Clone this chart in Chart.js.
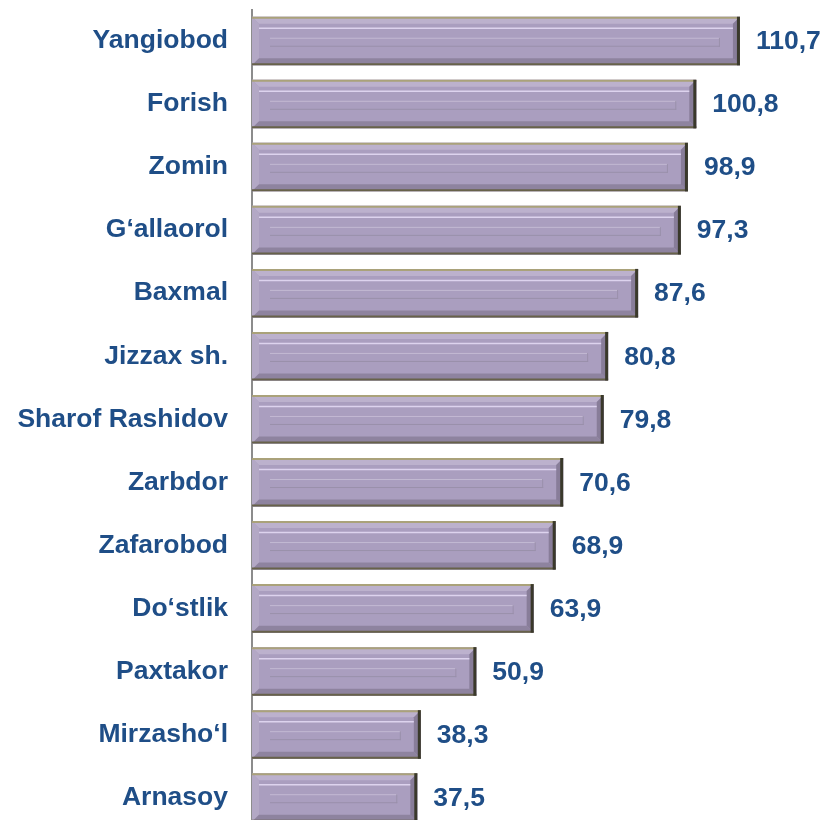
<!DOCTYPE html>
<html>
<head>
<meta charset="utf-8">
<script src="https://cdn.jsdelivr.net/npm/chart.js@4.4.1/dist/chart.umd.min.js"></script>
<style>
  html, body { margin: 0; padding: 0; background: #fff; overflow: hidden; }
  #wrap { position: absolute; left: 0; top: 0; width: 825px; height: 829px; }
</style>
</head>
<body>
<div id="wrap"><canvas id="chart"></canvas></div>
<script>
var districts = ['Yangiobod', 'Forish', 'Zomin', 'G\u2018allaorol', 'Baxmal', 'Jizzax sh.', 'Sharof Rashidov',
    'Zarbdor', 'Zafarobod', 'Do\u2018stlik', 'Paxtakor', 'Mirzasho\u2018l', 'Arnasoy'];
var values = [110.7, 100.8, 98.9, 97.3, 87.6, 80.8, 79.8, 70.6, 68.9, 63.9, 50.9, 38.3, 37.5];

var labelColor = '#1f4e87';
var fontFamily = '"Liberation Sans", Arial, sans-serif';
var fontSize = 26.5;

// bevelled bars + value labels
var bevelPlugin = {
    id: 'bevel',
    afterDatasetsDraw: function (chart) {
        var ctx = chart.ctx;
        var meta = chart.getDatasetMeta(0);
        meta.data.forEach(function (bar, i) {
            var l = bar.base, r = bar.x;
            var t = bar.y - bar.height / 2, b = bar.y + bar.height / 2;
            var bw = 7;
            ctx.save();
            // top bevel
            ctx.fillStyle = '#bcb1cd';
            ctx.beginPath();
            ctx.moveTo(l, t); ctx.lineTo(r, t); ctx.lineTo(r - bw, t + bw); ctx.lineTo(l + bw, t + bw);
            ctx.closePath(); ctx.fill();
            // left bevel
            ctx.fillStyle = '#b3a8c5';
            ctx.beginPath();
            ctx.moveTo(l, t); ctx.lineTo(l + bw, t + bw); ctx.lineTo(l + bw, b - bw); ctx.lineTo(l, b);
            ctx.closePath(); ctx.fill();
            // bottom bevel
            ctx.fillStyle = '#8e839f';
            ctx.beginPath();
            ctx.moveTo(l, b); ctx.lineTo(l + bw, b - bw); ctx.lineTo(r - bw, b - bw); ctx.lineTo(r, b);
            ctx.closePath(); ctx.fill();
            // right bevel
            ctx.fillStyle = '#887d99';
            ctx.beginPath();
            ctx.moveTo(r, t); ctx.lineTo(r, b); ctx.lineTo(r - bw, b - bw); ctx.lineTo(r - bw, t + bw);
            ctx.closePath(); ctx.fill();
            // highlight line
            ctx.strokeStyle = '#ddd3ee';
            ctx.lineWidth = 1.5;
            ctx.beginPath();
            ctx.moveTo(l + bw, t + 11.5); ctx.lineTo(r - bw, t + 11.5);
            ctx.stroke();
            // inner panel
            ctx.lineWidth = 1;
            ctx.strokeStyle = '#c3b9d3';
            ctx.beginPath();
            ctx.moveTo(l + 18, t + 21.5); ctx.lineTo(r - 20, t + 21.5);
            ctx.stroke();
            ctx.strokeStyle = '#9a90ab';
            ctx.beginPath();
            ctx.moveTo(l + 18, t + 29.5); ctx.lineTo(r - 20, t + 29.5);
            ctx.moveTo(r - 20.5, t + 21); ctx.lineTo(r - 20.5, t + 30);
            ctx.stroke();
            // outline
            ctx.lineWidth = 2;
            ctx.strokeStyle = '#aaa27a';
            ctx.beginPath();
            ctx.moveTo(l, t + 1); ctx.lineTo(r, t + 1);
            ctx.stroke();
            ctx.strokeStyle = '#67624a';
            ctx.beginPath();
            ctx.moveTo(l, b - 1); ctx.lineTo(r, b - 1);
            ctx.stroke();
            ctx.lineWidth = 3;
            ctx.strokeStyle = '#3a392b';
            ctx.beginPath();
            ctx.moveTo(r - 1.5, t); ctx.lineTo(r - 1.5, b);
            ctx.stroke();
            // value label
            ctx.fillStyle = labelColor;
            ctx.font = 'bold ' + fontSize + 'px ' + fontFamily;
            ctx.textAlign = 'left';
            ctx.textBaseline = 'middle';
            ctx.fillText(values[i].toFixed(1).replace('.', ','), r + 16, bar.y + 1);
            ctx.restore();
        });
    }
};

new Chart(document.getElementById('chart'), {
    type: 'bar',
    data: {
        labels: districts,
        datasets: [{
            data: values,
            backgroundColor: '#aa9ebf',
            borderWidth: 0,
            categoryPercentage: 1,
            barPercentage: 0.77
        }]
    },
    options: {
        indexAxis: 'y',
        responsive: true,
        maintainAspectRatio: false,
        animation: false,
        layout: { padding: { top: 9.5, right: 0, bottom: 0, left: 0 } },
        plugins: {
            legend: { display: false },
            tooltip: { enabled: false }
        },
        scales: {
            x: {
                display: false,
                min: 0,
                max: 130
            },
            y: {
                afterFit: function (scale) {
                    scale.width = 252;
                    scale.paddingTop = 0;
                    scale.paddingBottom = 0;
                },
                grid: { display: true, drawOnChartArea: false, drawTicks: false },
                border: { display: true, color: '#8c8c8c', width: 2 },
                ticks: {
                    padding: 24,
                    color: labelColor,
                    font: { family: fontFamily, size: fontSize, weight: 'bold' }
                }
            }
        }
    },
    plugins: [bevelPlugin]
});
</script>
</body>
</html>
